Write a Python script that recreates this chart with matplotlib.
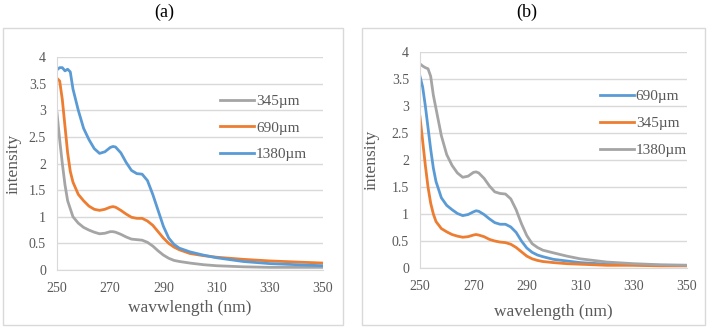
import matplotlib
matplotlib.use("Agg")
import matplotlib.pyplot as plt
from matplotlib.patches import Rectangle
from matplotlib.ticker import FuncFormatter

plt.rcParams["font.family"] = ["Liberation Serif", "DejaVu Serif"]

BLUE = "#5B9BD5"
ORANGE = "#ED7D31"
GRAY = "#A5A5A5"
TXT = "#595959"
GRID = "#D9D9D9"

# panel (a)
wl_a = [250, 251, 252, 253, 254, 255, 256, 258, 260, 262, 264, 266, 268, 270, 271, 272, 274,
        276, 278, 280, 282, 284, 286, 288, 290, 292, 294, 296, 300, 305, 310, 320, 330, 340, 350]
a_345 = [2.95, 2.45, 2.0, 1.6, 1.3, 1.15, 1.0, 0.88, 0.8, 0.75, 0.71, 0.68, 0.69, 0.72, 0.72,
         0.71, 0.67, 0.62, 0.58, 0.57, 0.56, 0.52, 0.45, 0.36, 0.28, 0.22, 0.18, 0.16, 0.13,
         0.1, 0.08, 0.06, 0.05, 0.05, 0.05]
a_690 = [3.6, 3.55, 3.2, 2.7, 2.2, 1.85, 1.65, 1.42, 1.3, 1.2, 1.14, 1.12, 1.14, 1.18, 1.19,
         1.18, 1.12, 1.05, 0.99, 0.97, 0.97, 0.92, 0.84, 0.72, 0.6, 0.5, 0.43, 0.38, 0.31,
         0.27, 0.24, 0.2, 0.17, 0.15, 0.13]
a_1380 = [3.76, 3.8, 3.8, 3.74, 3.77, 3.72, 3.4, 3.0, 2.66, 2.45, 2.28, 2.19, 2.22, 2.3, 2.32,
          2.31, 2.2, 2.02, 1.87, 1.81, 1.8, 1.68, 1.42, 1.12, 0.82, 0.6, 0.48, 0.41, 0.34,
          0.28, 0.23, 0.16, 0.12, 0.1, 0.08]

# panel (b)
wl_b = [250, 251, 252, 253, 254, 255, 256, 258, 260, 262, 264, 266, 268, 270, 271, 272, 274,
        276, 278, 280, 282, 284, 286, 288, 290, 292, 294, 296, 300, 305, 310, 320, 330, 340, 350]
b_690 = [3.55, 3.35, 3.0, 2.6, 2.2, 1.85, 1.6, 1.3, 1.16, 1.08, 1.01, 0.97, 0.99, 1.04, 1.06,
         1.05, 0.99, 0.91, 0.84, 0.81, 0.81, 0.76, 0.66, 0.5, 0.37, 0.29, 0.24, 0.21, 0.16,
         0.13, 0.1, 0.07, 0.06, 0.05, 0.05]
b_345 = [2.8, 2.35, 1.9, 1.5, 1.2, 1.0, 0.86, 0.73, 0.67, 0.62, 0.59, 0.57, 0.58, 0.61, 0.62,
         0.61, 0.58, 0.53, 0.5, 0.48, 0.47, 0.44, 0.38, 0.3, 0.22, 0.17, 0.14, 0.12, 0.1,
         0.08, 0.07, 0.05, 0.05, 0.04, 0.04]
b_1380 = [3.78, 3.74, 3.71, 3.69, 3.55, 3.2, 2.95, 2.45, 2.1, 1.9, 1.76, 1.68, 1.7, 1.77, 1.78,
          1.76, 1.66, 1.52, 1.41, 1.38, 1.37, 1.28, 1.08, 0.82, 0.6, 0.45, 0.38, 0.33, 0.28,
          0.22, 0.17, 0.11, 0.08, 0.06, 0.05]

fig = plt.figure(figsize=(7.09, 3.29), dpi=100)

# outer frames
for x0, w in [(3 / 709, 340 / 709), (362 / 709, 343 / 709)]:
    fig.patches.append(Rectangle((x0, 4 / 329), w, 297 / 329, transform=fig.transFigure,
                                 fill=False, edgecolor=GRID, linewidth=1))

ax_a = fig.add_axes([57 / 709, 59 / 329, 266 / 709, 213 / 329])
ax_b = fig.add_axes([420 / 709, 61 / 329, 267 / 709, 216 / 329])


def style(ax, xlabel, xlab_y, ylab_x):
    ax.set_xlim(250, 350)
    ax.set_ylim(0, 4)
    ax.set_xticks(range(250, 351, 20))
    ax.set_yticks([i * 0.5 for i in range(9)])
    ax.yaxis.set_major_formatter(FuncFormatter(lambda v, p: "%g" % v))
    ax.grid(axis="y", color=GRID, linewidth=1)
    ax.set_axisbelow(True)
    for s in ["top", "right"]:
        ax.spines[s].set_visible(False)
    for s in ["left", "bottom"]:
        ax.spines[s].set_color(GRID)
    ax.tick_params(axis="x", length=0, labelsize=10, labelcolor=TXT, pad=9)
    ax.tick_params(axis="y", length=0, labelsize=10, labelcolor=TXT, pad=8)
    ax.set_xlabel(xlabel, fontsize=12.5, color=TXT)
    ax.set_ylabel("intensity", fontsize=12.5, color=TXT)
    ax.xaxis.set_label_coords(0.5, xlab_y)
    ax.yaxis.set_label_coords(ylab_x, 0.5)


lw = 2.0
ax_a.plot(wl_a, a_345, color=GRAY, lw=lw, label="345\u00b5m")
ax_a.plot(wl_a, a_690, color=ORANGE, lw=lw, label="690\u00b5m")
ax_a.plot(wl_a, a_1380, color=BLUE, lw=lw, label="1380\u00b5m")
style(ax_a, "wavwlength (nm)", -30 / 213, -35 / 266)
ax_a.legend(loc="upper left", bbox_to_anchor=(0.613, 0.825), frameon=False, fontsize=11,
            handlelength=2.2, handletextpad=0.15, labelspacing=0.85, borderpad=0,
            borderaxespad=0, labelcolor=TXT)

ax_b.plot(wl_b, b_690, color=BLUE, lw=lw, label="690\u00b5m")
ax_b.plot(wl_b, b_345, color=ORANGE, lw=lw, label="345\u00b5m")
ax_b.plot(wl_b, b_1380, color=GRAY, lw=lw, label="1380\u00b5m")
style(ax_b, "wavelength (nm)", -36 / 216, -40 / 267)
ax_b.legend(loc="upper left", bbox_to_anchor=(0.674, 0.825), frameon=False, fontsize=11,
            handlelength=2.2, handletextpad=0.15, labelspacing=0.85, borderpad=0,
            borderaxespad=0, labelcolor=TXT)

fig.text(164 / 709, 1 - 12 / 329, "(a)", ha="center", va="center", fontsize=13)
fig.text(527 / 709, 1 - 12 / 329, "(b)", ha="center", va="center", fontsize=13)

fig.savefig("out.png", dpi=100)
